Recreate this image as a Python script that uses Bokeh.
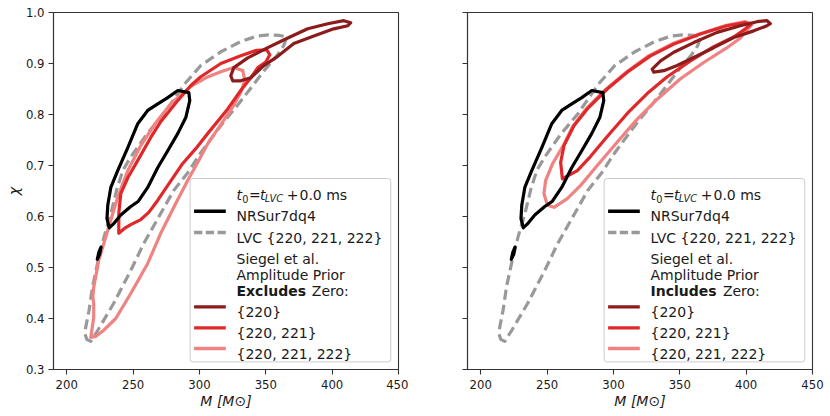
import math
from bokeh.plotting import figure
from bokeh.layouts import row
from bokeh.models import FixedTicker, PrintfTickFormatter, Label, BoxAnnotation
from bokeh.embed import file_html
from bokeh.resources import INLINE

# ---------------- data ----------------
X_RANGE = (190, 450)
Y_RANGE = (0.3, 1.0)
XTICKS = [200, 250, 300, 350, 400, 450]
YTICKS = [0.3, 0.4, 0.5, 0.6, 0.7, 0.8, 0.9, 1.0]
X_LABEL = "M [M\u2299]"
Y_LABEL = "\u03c7"

# NRSur7dq4 contour (same in both panels)
NRSUR_M = [283.7, 292.0, 292.7, 289.7, 283.7, 276.1, 268.6, 261.0, 254.0, 248.0, 240.7,
           235.0, 232.0, 230.3, 230.9, 233.2, 238.4, 246.0, 253.5, 261.0, 268.6, 276.1]
NRSUR_CHI = [0.847, 0.843, 0.827, 0.794, 0.763, 0.729, 0.696, 0.657, 0.630, 0.619, 0.603,
             0.585, 0.578, 0.596, 0.622, 0.657, 0.690, 0.735, 0.782, 0.808, 0.821, 0.833]
NRSUR_BLOB_M = [223.0, 224.2, 225.8, 224.8]
NRSUR_BLOB_CHI = [0.516, 0.530, 0.540, 0.526]

# LVC {220, 221, 222} contour (same in both panels)
LVC_M = [218.1, 215.1, 213.6, 214.3, 216.8, 219.4, 223.1, 228.1, 233.2, 237.9, 242.2, 248.0,
         260.5, 273.1, 288.2, 301.0, 316.1, 331.1, 343.7, 352.2, 360.5, 365.8, 363.5, 358.3,
         350.0, 340.2, 329.6, 319.1, 310.0, 301.0, 291.2, 280.6, 270.8, 258.0, 248.2, 235.4, 223.4]
LVC_CHI = [0.355, 0.359, 0.371, 0.383, 0.416, 0.462, 0.507, 0.560, 0.605, 0.655, 0.690, 0.716,
           0.762, 0.801, 0.858, 0.896, 0.923, 0.943, 0.954, 0.956, 0.955, 0.952, 0.935, 0.915,
           0.890, 0.857, 0.821, 0.788, 0.757, 0.725, 0.686, 0.651, 0.606, 0.547, 0.494, 0.430, 0.377]

# Left panel: amplitude prior excludes zero
EXC_220_M = [323.6, 325.9, 336.4, 351.5, 366.6, 381.6, 396.7, 408.8, 414.0, 411.8, 401.2,
             386.2, 371.1, 359.0, 348.5, 338.7, 331.1, 325.1]
EXC_220_CHI = [0.876, 0.892, 0.911, 0.931, 0.950, 0.968, 0.978, 0.984, 0.980, 0.974, 0.968,
               0.954, 0.939, 0.914, 0.896, 0.872, 0.866, 0.866]
EXC_221_M = [239.2, 239.2, 240.7, 246.0, 253.5, 263.3, 270.8, 282.9, 293.5, 301.0, 316.1,
             331.1, 343.2, 350.7, 353.0, 350.0, 344.0, 338.7, 331.1, 321.3, 306.3, 297.2,
             287.4, 276.1, 268.6, 261.8, 255.8, 248.2, 243.7]
EXC_221_CHI = [0.567, 0.606, 0.645, 0.676, 0.710, 0.755, 0.786, 0.825, 0.857, 0.874, 0.900,
               0.915, 0.926, 0.927, 0.917, 0.903, 0.892, 0.872, 0.847, 0.811, 0.763, 0.733,
               0.704, 0.661, 0.632, 0.608, 0.594, 0.584, 0.577]
EXC_222_M = [218.1, 220.3, 220.3, 219.6, 220.3, 224.1, 230.9, 238.4, 246.0, 255.8, 267.1,
             278.4, 293.5, 304.8, 316.1, 325.9, 332.7, 334.2, 331.1, 325.1, 316.1, 306.3,
             299.5, 291.2, 282.2, 270.8, 261.0, 248.2, 236.9, 227.9, 221.9]
EXC_222_CHI = [0.363, 0.402, 0.430, 0.442, 0.461, 0.514, 0.573, 0.638, 0.690, 0.739, 0.784,
               0.821, 0.855, 0.872, 0.884, 0.892, 0.886, 0.866, 0.843, 0.815, 0.780, 0.743,
               0.710, 0.671, 0.626, 0.567, 0.508, 0.449, 0.400, 0.377, 0.365]

# Right panel: amplitude prior includes zero
INC_220_M = [329.2, 335.5, 345.5, 360.5, 378.1, 395.6, 408.2, 415.7, 418.2, 415.7, 405.7,
             390.6, 375.6, 360.5, 348.0, 337.9, 330.4]
INC_220_CHI = [0.889, 0.905, 0.922, 0.941, 0.961, 0.974, 0.982, 0.984, 0.978, 0.974, 0.964,
               0.951, 0.931, 0.912, 0.896, 0.886, 0.883]
INC_221_M = [261.5, 260.2, 262.7, 270.2, 280.3, 295.3, 310.4, 327.9, 345.5, 365.5, 385.6,
             399.4, 403.2, 399.4, 390.6, 375.6, 358.0, 340.5, 325.4, 310.4, 295.3, 282.8, 272.8]
INC_221_CHI = [0.674, 0.706, 0.739, 0.778, 0.811, 0.850, 0.883, 0.915, 0.938, 0.958, 0.974,
               0.980, 0.976, 0.968, 0.952, 0.933, 0.905, 0.874, 0.841, 0.802, 0.757, 0.718, 0.690]
INC_222_M = [250.2, 247.6, 248.9, 254.2, 261.7, 269.2, 279.0, 294.1, 309.1, 326.4, 344.5,
             364.8, 385.1, 399.4, 404.7, 400.9, 395.7, 385.6, 368.0, 350.5, 333.0, 317.9,
             302.9, 287.8, 275.3, 265.2, 255.2]
INC_222_CHI = [0.622, 0.645, 0.671, 0.704, 0.737, 0.776, 0.810, 0.849, 0.882, 0.915, 0.939,
               0.958, 0.975, 0.982, 0.978, 0.966, 0.950, 0.931, 0.902, 0.870, 0.830, 0.791,
               0.746, 0.700, 0.661, 0.635, 0.618]

SERIES_LABELS = ["NRSur7dq4", "LVC {220, 221, 222}", "{220}", "{220, 221}", "{220, 221, 222}"]
PANEL_WORD = ["Excludes", "Includes"]

# ---------------- styles ----------------
FONT = "DejaVu Sans"
C_BLACK = "#000000"
C_GRAY = "#999999"
C_DARK = "#8c1c1c"
C_RED = "#e0282b"
C_PINK = "#f08282"
LW = 3.2
SPINE = "#333333"
TXT = "#1a1a1a"

FRAME_W, FRAME_H = 345, 357
TOP, BOTTOM = 12, 45


def make_fig(left_border, right_border, show_ylabels):
    p = figure(width=left_border + FRAME_W + right_border, height=TOP + FRAME_H + BOTTOM,
               x_range=X_RANGE, y_range=Y_RANGE, output_backend="svg",
               toolbar_location=None, min_border_left=left_border,
               min_border_right=right_border, min_border_top=TOP, min_border_bottom=BOTTOM)
    p.xgrid.visible = False
    p.ygrid.visible = False
    p.outline_line_color = SPINE
    p.outline_line_width = 1.1
    p.outline_line_alpha = 1
    p.background_fill_color = "white"
    p.border_fill_color = "white"
    for ax in (p.xaxis[0], p.yaxis[0]):
        ax.axis_line_color = SPINE
        ax.axis_line_width = 1.1
        ax.major_tick_line_color = SPINE
        ax.major_tick_line_width = 1.1
        ax.major_tick_out = 5
        ax.major_tick_in = 0
        ax.minor_tick_line_color = None
        ax.major_label_text_font = FONT
        ax.major_label_text_font_size = "11.7px"
        ax.major_label_text_color = TXT
        ax.axis_label_text_font = FONT
        ax.axis_label_text_font_size = "14px"
        ax.axis_label_text_font_style = "italic"
        ax.axis_label_text_color = TXT
    p.xaxis.ticker = FixedTicker(ticks=XTICKS)
    p.yaxis.ticker = FixedTicker(ticks=YTICKS)
    p.xaxis.formatter = PrintfTickFormatter(format="%d")
    p.xaxis.major_label_standoff = 5
    p.yaxis.major_label_standoff = 4
    p.xaxis.axis_label = X_LABEL
    p.xaxis.axis_label_standoff = 1
    if show_ylabels:
        p.yaxis.formatter = PrintfTickFormatter(format="%.1f")
        p.yaxis.axis_label = Y_LABEL
        p.yaxis.axis_label_standoff = 1
    else:
        p.yaxis.major_label_overrides = {t: "" for t in YTICKS}
    return p


def lbl(p, text, x, y, size="14px", style="normal"):
    p.add_layout(Label(x=x, y=y, x_units="screen", y_units="screen", text=text,
                       text_font=FONT, text_font_size=size, text_font_style=style,
                       text_color=TXT, text_align="left", text_baseline="alphabetic",
                       level="overlay"))


def key(p, x0, x1, yc, color):
    p.add_layout(BoxAnnotation(left=x0, right=x1, bottom=yc - 1.7, top=yc + 1.7,
                               left_units="screen", right_units="screen",
                               top_units="screen", bottom_units="screen",
                               fill_color=color, fill_alpha=1, line_color=None,
                               level="overlay"))


def decorate(p, word):
    # legend frame
    p.add_layout(BoxAnnotation(left=136.6, right=337.3, bottom=7.6, top=191,
                               left_units="screen", right_units="screen",
                               top_units="screen", bottom_units="screen",
                               fill_color="white", fill_alpha=0.8, line_color="#cccccc",
                               line_alpha=1, line_width=1, border_radius=3,
                               level="annotation"))
    # title  t0 = t_LVC + 0.0 ms
    lbl(p, "t", 183.0, 174.3, style="italic")
    lbl(p, "0", 188.8, 171.0, size="9.8px")
    lbl(p, "=", 195.6, 174.3)
    lbl(p, "t", 206.6, 174.3, style="italic")
    lbl(p, "LVC", 211.2, 171.0, size="9.8px", style="italic")
    lbl(p, "+", 233.3, 174.3)
    lbl(p, "0.0 ms", 246.0, 174.3)
    # line entries
    kx0, kx1, tx = 140.6, 172.3, 183.0
    key(p, kx0, kx1, 158.3, C_BLACK)
    lbl(p, SERIES_LABELS[0], tx, 153.3)
    for a, b in ((140.6, 148.9), (152.3, 160.6), (164.0, 172.3)):
        key(p, a, b, 137.0, C_GRAY)
    lbl(p, SERIES_LABELS[1], tx, 132.0)
    lbl(p, "Siegel et al.", tx, 110.5)
    lbl(p, "Amplitude Prior", tx, 94.2)
    lbl(p, word, tx, 78.2, style="bold")
    lbl(p, "Zero:", tx + (75.3 if word == "Excludes" else 72.4), 78.2)
    key(p, kx0, kx1, 62.6, C_DARK)
    lbl(p, SERIES_LABELS[2], tx, 57.6)
    key(p, kx0, kx1, 41.6, C_RED)
    lbl(p, SERIES_LABELS[3], tx, 36.6)
    key(p, kx0, kx1, 21.0, C_PINK)
    lbl(p, SERIES_LABELS[4], tx, 16.0)


def contours(p, c220, c221, c222):
    p.patch(LVC_M, LVC_CHI, fill_color=None, line_color=C_GRAY, line_width=LW,
            line_dash="10 5", line_join="round")
    p.patch(c222[0], c222[1], fill_color=None, line_color=C_PINK, line_width=LW, line_join="round")
    p.patch(c221[0], c221[1], fill_color=None, line_color=C_RED, line_width=LW, line_join="round")
    p.patch(c220[0], c220[1], fill_color=None, line_color=C_DARK, line_width=LW, line_join="round")
    p.patch(NRSUR_M, NRSUR_CHI, fill_color=None, line_color=C_BLACK, line_width=LW, line_join="round")
    p.patch(NRSUR_BLOB_M, NRSUR_BLOB_CHI, fill_color=C_BLACK, line_color=C_BLACK,
            line_width=LW, line_join="round")


p1 = make_fig(53, 10, True)
contours(p1, (EXC_220_M, EXC_220_CHI), (EXC_221_M, EXC_221_CHI), (EXC_222_M, EXC_222_CHI))
decorate(p1, PANEL_WORD[0])

p2 = make_fig(59, 14, False)
contours(p2, (INC_220_M, INC_220_CHI), (INC_221_M, INC_221_CHI), (INC_222_M, INC_222_CHI))
decorate(p2, PANEL_WORD[1])

layout = row(p1, p2)
open("out.html", "w").write(file_html(layout, INLINE))
